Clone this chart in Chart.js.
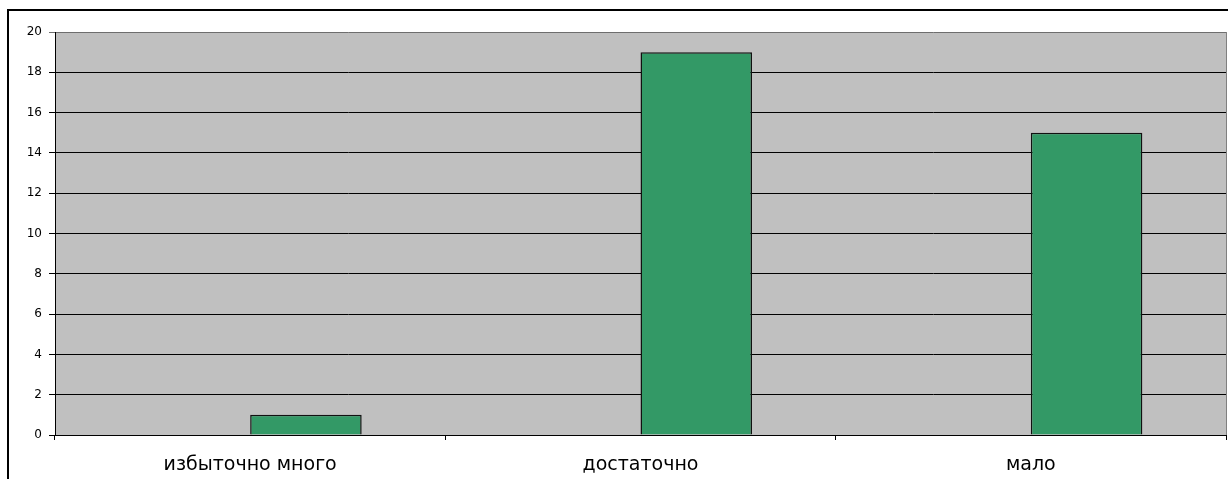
<!DOCTYPE html>
<html>
<head>
<meta charset="utf-8">
<script src="https://cdn.jsdelivr.net/npm/chart.js@4/dist/chart.umd.min.js"></script>
<style>
  html, body { margin: 0; padding: 0; background: #fff; }
  #wrap { position: relative; width: 1228px; height: 479px; overflow: hidden; }
  #frame {
    position: absolute; left: 7px; top: 9px; width: 1240px; height: 490px;
    border: 2px solid #000; box-sizing: border-box;
  }
  #chart { position: absolute; left: 0; top: 0; }
</style>
</head>
<body>
<div id="wrap">
  <div id="frame"></div>
  <canvas id="chart" width="1228" height="479"></canvas>
</div>
<script>
// --- Données ---
const categories = ["избыточно много", "достаточно", "мало"];
const emptySeries = [null, null, null];
const answers = [1, 19, 15];
const yTicks = [0, 2, 4, 6, 8, 10, 12, 14, 16, 18, 20];

// fond gris de la zone de tracé + bordure droite
const plotBg = {
  id: "plotBg",
  beforeDraw(chart) {
    const { ctx, chartArea: a } = chart;
    ctx.save();
    ctx.fillStyle = "#c0c0c0";
    ctx.fillRect(a.left, a.top, a.right - a.left, a.bottom - a.top);
    ctx.strokeStyle = "#808080";
    ctx.lineWidth = 1;
    ctx.beginPath();
    ctx.moveTo(a.right + 0.5, a.top);
    ctx.lineTo(a.right + 0.5, a.bottom);
    ctx.stroke();
    ctx.restore();
  }
};

new Chart(document.getElementById("chart"), {
  type: "bar",
  data: {
    labels: categories,
    datasets: [
      { label: "s1", data: emptySeries, backgroundColor: "#339966", borderColor: "#111", borderWidth: 1.5 },
      { label: "s2", data: answers, backgroundColor: "#339966", borderColor: "#111", borderWidth: 1.5 }
    ]
  },
  options: {
    responsive: false,
    animation: false,
    devicePixelRatio: 1,
    layout: { padding: { left: 0, top: 32, right: 2, bottom: 0 } },
    datasets: { bar: { categoryPercentage: 2 / 3.5, barPercentage: 1 } },
    plugins: { legend: { display: false }, tooltip: { enabled: false } },
    scales: {
      x: {
        offset: true,
        afterFit: s => { s.height = 44; },
        grid: { offset: true, drawOnChartArea: false, color: "#000", tickLength: 5 },
        border: { color: "#000", width: 1 },
        ticks: { color: "#000", padding: 14, maxRotation: 0, autoSkip: false, font: { family: "'DejaVu Sans'", size: 19 } }
      },
      y: {
        min: 0, max: 20,
        afterFit: s => { s.width = 55; },
        afterBuildTicks: s => { s.ticks = yTicks.map(v => ({ value: v })); },
        grid: {
          color: c => (c.tick && c.tick.value === 20 ? "#6e6e6e" : "#000"),
          lineWidth: 1,
          tickLength: 6
        },
        border: { color: "#000", width: 1 },
        ticks: { color: "#000", padding: 7, autoSkip: false, font: { family: "'DejaVu Sans'", size: 12 } }
      }
    }
  },
  plugins: [plotBg]
});
</script>
</body>
</html>
